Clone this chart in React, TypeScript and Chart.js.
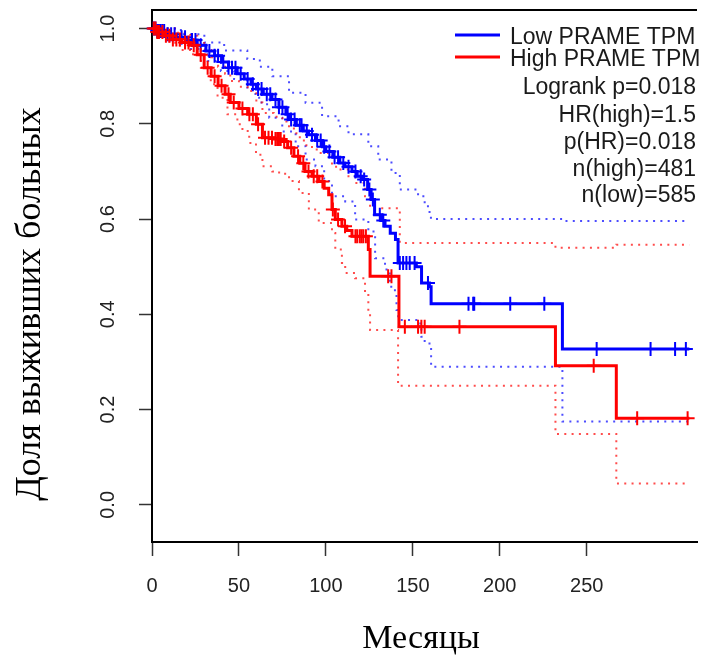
import React, { useEffect, useRef } from 'react';
import { Chart, registerables } from 'chart.js';

Chart.register(...registerables);

// Axis ticks
const X_TICKS = [0, 50, 100, 150, 200, 250];
const Y_TICKS = [0, 0.2, 0.4, 0.6, 0.8, 1.0];

// Low PRAME TPM (blue) Kaplan-Meier steps: value holds from time onward
const LOW_TIMES = [0, 3, 8, 14, 20, 26, 31, 36, 40, 44, 49, 53, 57, 60, 64, 69, 73, 77, 79, 83, 87, 90, 94, 98, 100, 104, 108, 111, 115, 118, 121, 124, 126, 128, 132, 134, 137, 140, 141.5, 152, 155, 159.5, 160.5, 236, 309];
const LOW_SURV = [1.0, 0.995, 0.988, 0.982, 0.976, 0.965, 0.953, 0.943, 0.93, 0.918, 0.905, 0.894, 0.883, 0.873, 0.862, 0.851, 0.835, 0.82, 0.809, 0.797, 0.785, 0.777, 0.765, 0.752, 0.742, 0.73, 0.718, 0.71, 0.7, 0.69, 0.683, 0.662, 0.641, 0.609, 0.597, 0.585, 0.57, 0.557, 0.508, 0.5, 0.466, 0.458, 0.422, 0.327, 0.327];
const LOW_CENSOR = [1, 2, 3, 4, 5, 6, 7, 9, 11, 13, 17, 19, 23, 25, 28, 33, 36, 38, 41, 44, 46, 48, 51, 55, 58, 61, 63, 66, 68, 71, 73, 75, 78, 80, 82, 85, 86, 89, 92, 95, 97, 99, 102, 105, 107, 110, 113, 117, 120, 122, 125, 127, 131, 133, 142.5, 144.4, 146.3, 148.2, 151, 158.7, 182, 184.7, 185.3, 206, 225.6, 255.7, 286.7, 300.8, 307];
const LOW_UP_T = [0, 16.6, 30.1, 41.5, 54.8, 62, 69.2, 78.8, 88.3, 97.8, 107.3, 113, 124.4, 130.1, 137.7, 142.5, 153, 156.8, 159.6, 160.4, 236, 309];
const LOW_UP_V = [1.0, 0.988, 0.971, 0.954, 0.936, 0.92, 0.9, 0.865, 0.844, 0.816, 0.795, 0.778, 0.753, 0.725, 0.697, 0.662, 0.648, 0.627, 0.606, 0.6, 0.596, 0.596];
const LOW_LO_T = [0, 5, 9.1, 16, 22.4, 32, 39.6, 47.2, 54.8, 59.5, 63, 67.4, 74.9, 82.6, 88.3, 94, 99, 103.5, 111.1, 116.8, 124.4, 128.3, 134, 136.8, 139.7, 140.6, 141.6, 153, 154.9, 156.8, 160.5, 236, 309];
const LOW_LO_V = [1.0, 0.99, 0.981, 0.968, 0.957, 0.932, 0.911, 0.894, 0.873, 0.855, 0.841, 0.813, 0.784, 0.753, 0.725, 0.711, 0.68, 0.648, 0.637, 0.599, 0.574, 0.518, 0.494, 0.458, 0.445, 0.409, 0.388, 0.381, 0.353, 0.339, 0.29, 0.175, 0.175];

// High PRAME TPM (red)
const HIGH_TIMES = [0, 3, 7, 12, 17, 22, 26, 30, 34, 38, 42, 45, 50, 55, 60, 63.5, 70, 75, 78, 81.6, 85, 88, 92, 96, 99, 101.6, 103.5, 105.4, 109.2, 112, 115, 124.4, 125.4, 142, 232, 267, 309];
const HIGH_SURV = [1.0, 0.993, 0.985, 0.977, 0.971, 0.965, 0.945, 0.918, 0.9, 0.88, 0.862, 0.845, 0.832, 0.82, 0.799, 0.771, 0.768, 0.763, 0.75, 0.732, 0.717, 0.7, 0.69, 0.679, 0.665, 0.651, 0.62, 0.599, 0.585, 0.576, 0.564, 0.536, 0.48, 0.374, 0.292, 0.182, 0.182];
const HIGH_CENSOR = [1, 2, 3, 4, 6, 8, 10, 12, 14, 16, 19, 21, 24, 28, 32, 36, 40, 44, 47, 52, 56, 58, 61, 65, 67, 69, 71, 72, 73, 74, 76, 80, 84, 87, 90, 93, 95, 98, 104, 107, 111, 117, 118, 119.5, 120.5, 121.5, 123, 135.8, 137.7, 145.4, 153, 154.9, 156.8, 176.8, 254, 279, 308];
const HIGH_UP_T = [0, 8, 15, 22, 26, 30, 34, 38, 42, 45, 50, 55, 60, 63.5, 70, 75, 78, 81.6, 85, 88, 92, 96, 101.6, 103.5, 107.3, 113, 116.8, 122.5, 125.4, 142.5, 232, 267, 309];
const HIGH_UP_V = [1.0, 1.0, 0.99, 0.985, 0.975, 0.955, 0.94, 0.92, 0.905, 0.89, 0.878, 0.869, 0.845, 0.823, 0.815, 0.805, 0.795, 0.78, 0.765, 0.755, 0.746, 0.739, 0.732, 0.71, 0.704, 0.69, 0.676, 0.648, 0.623, 0.55, 0.54, 0.546, 0.546];
const HIGH_LO_T = [0, 5, 10, 16, 22.4, 28.1, 33.8, 37.7, 43.4, 49.1, 52, 55.9, 59.8, 63.5, 69.2, 73.1, 78.8, 84.5, 90.2, 95.9, 103.5, 105.4, 109.2, 111.1, 116.8, 122.5, 124.4, 125.4, 141.5, 232, 267, 309];
const HIGH_LO_V = [1.0, 0.985, 0.97, 0.955, 0.946, 0.918, 0.883, 0.855, 0.82, 0.799, 0.785, 0.76, 0.735, 0.711, 0.7, 0.695, 0.68, 0.655, 0.62, 0.592, 0.571, 0.536, 0.508, 0.487, 0.476, 0.445, 0.403, 0.367, 0.25, 0.149, 0.045, 0.045];

const LEGEND_SERIES = ['Low PRAME TPM', 'High PRAME TPM'];
const LEGEND_STATS = ['Logrank p=0.018', 'HR(high)=1.5', 'p(HR)=0.018', 'n(high)=481', 'n(low)=585'];
const X_TITLE = 'Месяцы';
const Y_TITLE = 'Доля выживших больных';

const BLUE = '#0000ff';
const RED = '#ff0000';

function pts(t: number[], v: number[]) {
  return t.map((x, i) => ({ x, y: v[i] }));
}
function stepAt(t: number[], v: number[], x: number) {
  let val = v[0];
  for (let i = 0; i < t.length; i++) {
    if (t[i] <= x) val = v[i];
  }
  return val;
}
function censorPts(c: number[], t: number[], v: number[]) {
  return c.map((x) => ({ x, y: stepAt(t, v, x) }));
}

const decorPlugin = {
  id: 'decor',
  afterDraw(chart: any) {
    const { ctx, chartArea } = chart;
    ctx.save();
    // top frame line (right side is cropped in the reference)
    ctx.strokeStyle = '#000';
    ctx.lineWidth = 2;
    ctx.beginPath();
    ctx.moveTo(chartArea.left, chartArea.top);
    ctx.lineTo(chartArea.right, chartArea.top);
    ctx.stroke();
    // legend lines
    ctx.lineWidth = 3;
    ctx.strokeStyle = BLUE;
    ctx.beginPath(); ctx.moveTo(455, 35); ctx.lineTo(500, 35); ctx.stroke();
    ctx.strokeStyle = RED;
    ctx.beginPath(); ctx.moveTo(455, 57); ctx.lineTo(500, 57); ctx.stroke();
    // legend text
    ctx.fillStyle = '#1a1a1a';
    ctx.font = '23px "Liberation Sans", Arial, sans-serif';
    ctx.textBaseline = 'alphabetic';
    ctx.textAlign = 'left';
    ctx.fillText(LEGEND_SERIES[0], 510, 43.5);
    ctx.fillText(LEGEND_SERIES[1], 510, 65.5);
    ctx.textAlign = 'right';
    const base = [93.5, 121.5, 148.5, 175.5, 202];
    LEGEND_STATS.forEach((s, i) => ctx.fillText(s, 696, base[i]));
    // axis titles
    ctx.fillStyle = '#000';
    ctx.font = '34px "Liberation Serif", "Times New Roman", serif';
    ctx.textAlign = 'center';
    ctx.textBaseline = 'alphabetic';
    ctx.fillText(X_TITLE, 421, 648);
    ctx.font = '36px "Liberation Serif", "Times New Roman", serif';
    ctx.translate(31, 304);
    ctx.rotate(-Math.PI / 2);
    ctx.textBaseline = 'middle';
    ctx.fillText(Y_TITLE, 0, 0);
    ctx.restore();
  },
};

export default function App() {
  const ref = useRef<HTMLCanvasElement | null>(null);
  useEffect(() => {
    if (!ref.current) return;
    const ciCommon = {
      pointRadius: 0,
      borderWidth: 2,
      stepped: 'before' as const,
      borderDash: [2, 5.3],
      fill: false,
    };
    const chart = new Chart(ref.current, {
      type: 'line',
      data: {
        datasets: [
          {
            data: censorPts(HIGH_CENSOR, HIGH_TIMES, HIGH_SURV),
            showLine: false,
            pointStyle: 'cross',
            pointRadius: 7,
            pointBorderWidth: 2,
            borderColor: RED,
            backgroundColor: RED,
            clip: false,
          } as any,
          {
            data: pts(HIGH_TIMES, HIGH_SURV),
            borderColor: RED,
            borderWidth: 3,
            pointRadius: 0,
            stepped: 'before',
          },
          {
            data: censorPts(LOW_CENSOR, LOW_TIMES, LOW_SURV),
            showLine: false,
            pointStyle: 'cross',
            pointRadius: 7,
            pointBorderWidth: 2,
            borderColor: BLUE,
            backgroundColor: BLUE,
            clip: false,
          } as any,
          {
            data: pts(LOW_TIMES, LOW_SURV),
            borderColor: BLUE,
            borderWidth: 3,
            pointRadius: 0,
            stepped: 'before',
          },
          { ...ciCommon, data: pts(HIGH_UP_T, HIGH_UP_V), borderColor: 'rgba(255,0,0,0.7)' },
          { ...ciCommon, data: pts(HIGH_LO_T, HIGH_LO_V), borderColor: 'rgba(255,0,0,0.7)' },
          { ...ciCommon, data: pts(LOW_UP_T, LOW_UP_V), borderColor: 'rgba(0,0,255,0.7)' },
          { ...ciCommon, data: pts(LOW_LO_T, LOW_LO_V), borderColor: 'rgba(0,0,255,0.7)' },
        ],
      },
      options: {
        animation: false,
        responsive: false,
        maintainAspectRatio: false,
        layout: { padding: { top: 10, right: 5, left: 0, bottom: 0 } },
        plugins: { legend: { display: false }, tooltip: { enabled: false } },
        events: [],
        scales: {
          x: {
            type: 'linear',
            min: 0,
            max: 313.4,
            afterBuildTicks: (s: any) => {
              s.ticks = X_TICKS.map((v) => ({ value: v }));
            },
            afterFit: (s: any) => {
              s.height = 115;
              s.paddingLeft = 0;
              s.paddingRight = 0;
            },
            grid: { display: true, drawOnChartArea: false, drawTicks: true, tickLength: 14, tickColor: '#333', tickWidth: 1.5 },
            border: { display: true, color: '#000', width: 2 },
            ticks: {
              color: '#222',
              font: { family: '"Liberation Sans", Arial, sans-serif', size: 20 },
              padding: 18,
              maxRotation: 0,
              autoSkip: false,
              callback: (v: any) => String(v),
            },
          },
          y: {
            type: 'linear',
            min: -0.078,
            max: 1.039,
            afterBuildTicks: (s: any) => {
              s.ticks = Y_TICKS.map((v) => ({ value: v }));
            },
            afterFit: (s: any) => {
              s.width = 152;
              s.paddingTop = 0;
              s.paddingBottom = 0;
            },
            grid: { display: true, drawOnChartArea: false, drawTicks: true, tickLength: 13, tickColor: '#333', tickWidth: 1.5 },
            border: { display: true, color: '#000', width: 2 },
            ticks: {
              color: '#222',
              font: { family: '"Liberation Sans", Arial, sans-serif', size: 20 },
              padding: 17,
              minRotation: 90,
              maxRotation: 90,
              crossAlign: 'center',
              autoSkip: false,
              callback: (v: any) => Number(v).toFixed(1),
            },
          },
        },
      },
      plugins: [decorPlugin],
    } as any);
    return () => chart.destroy();
  }, []);
  return (
    <div style={{ position: 'absolute', left: 0, top: 0, width: 706, height: 657 }}>
      <canvas ref={ref} width={706} height={657} style={{ width: 706, height: 657, display: 'block' }} />
    </div>
  );
}
